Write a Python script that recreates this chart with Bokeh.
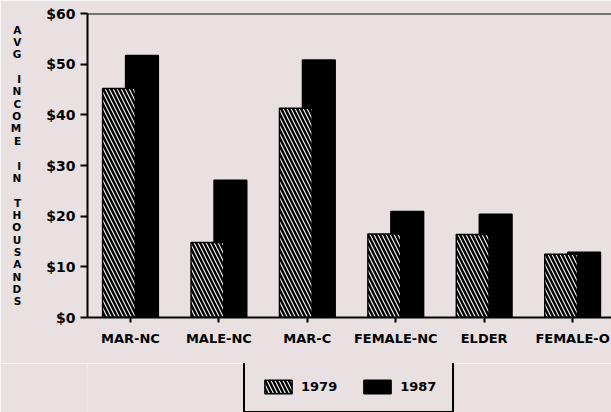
import numpy as np
from bokeh.plotting import figure
from bokeh.layouts import column
from bokeh.models import ColumnDataSource, Legend, LegendItem, Span, FixedTicker
from bokeh.embed import file_html
from bokeh.resources import INLINE

categories = ["MAR-NC", "MALE-NC", "MAR-C", "FEMALE-NC", "ELDER", "FEMALE-O"]
income_1979 = [45.2, 14.8, 41.3, 16.5, 16.4, 12.5]
income_1987 = [51.7, 27.1, 50.8, 20.9, 20.4, 12.9]
y_ticks = [0, 10, 20, 30, 40, 50, 60]
y_tick_labels = ["$0", "$10", "$20", "$30", "$40", "$50", "$60"]
series_labels = ["1979", "1987"]
y_title = "AVG INCOME IN THOUSANDS"

BG = "#e9e1e1"
FONT = "DejaVu Sans"

HATCHED = dict(fill_color="white", line_color="black", line_width=1.5,
               hatch_pattern="\\", hatch_color="black", hatch_scale=8, hatch_weight=2.5)
SOLID = dict(fill_color="black", line_color="black", line_width=1.5)

idx = np.arange(len(categories))
src = ColumnDataSource(dict(
    x79=idx - 0.13, x87=idx + 0.13,
    v79=income_1979, v87=income_1987,
))

p = figure(width=611, height=363, output_backend="svg", toolbar_location=None,
           x_range=(-0.486, 5.44), y_range=(0, 60),
           min_border_left=87, min_border_top=13, min_border_right=0,
           min_border_bottom=46,
           background_fill_color=BG, border_fill_color=BG)
p.outline_line_color = None
p.grid.visible = False

p.vbar(x="x87", top="v87", width=0.37, source=src, **SOLID)
p.vbar(x="x79", top="v79", width=0.37, source=src, **HATCHED)

p.add_layout(Span(location=60, dimension="width", line_color="black", line_width=2))

# y axis
p.yaxis.ticker = FixedTicker(ticks=y_ticks)
p.yaxis.major_label_overrides = {t: l for t, l in zip(y_ticks, y_tick_labels)}
p.yaxis.minor_tick_line_color = None
p.yaxis.major_tick_in = 0
p.yaxis.major_tick_out = 7
p.yaxis.major_tick_line_width = 2
p.yaxis.axis_line_width = 2
p.yaxis.major_label_standoff = 5
p.yaxis.major_label_text_font = FONT
p.yaxis.major_label_text_font_style = "bold"
p.yaxis.major_label_text_font_size = "14px"
p.yaxis.major_label_text_color = "black"
p.yaxis.axis_label = "\n".join(list(y_title))
p.yaxis.axis_label_orientation = "horizontal"
p.yaxis.axis_label_text_font = FONT
p.yaxis.axis_label_text_font_style = "bold"
p.yaxis.axis_label_text_font_size = "10.5px"
p.yaxis.axis_label_text_line_height = 1.03
p.yaxis.axis_label_standoff = 22
p.yaxis.axis_label_text_color = "black"

# x axis
p.xaxis.ticker = FixedTicker(ticks=list(idx))
p.xaxis.major_label_overrides = {int(i): c for i, c in zip(idx, categories)}
p.xaxis.minor_tick_line_color = None
p.xaxis.major_tick_in = 0
p.xaxis.major_tick_out = 5
p.xaxis.major_tick_line_width = 2
p.xaxis.axis_line_width = 2
p.xaxis.major_label_standoff = 8
p.xaxis.major_label_text_font = FONT
p.xaxis.major_label_text_font_style = "bold"
p.xaxis.major_label_text_font_size = "13px"
p.xaxis.major_label_text_color = "black"

# legend strip below the chart (swatch renderers hold no drawable value)
lg = figure(width=611, height=49, output_backend="svg", toolbar_location=None,
            x_range=(0, 1), y_range=(0, 1), x_axis_location=None, y_axis_location=None,
            min_border=0, min_border_left=87, min_border_right=0,
            background_fill_color=BG, border_fill_color=BG)
lg.outline_line_color = None
lg.grid.visible = False
swatch = ColumnDataSource(dict(x=[np.nan], top=[np.nan]))
l79 = lg.vbar(x="x", top="top", width=0.1, source=swatch, **HATCHED)
l87 = lg.vbar(x="x", top="top", width=0.1, source=swatch, **SOLID)

legend = Legend(items=[LegendItem(label=series_labels[0], renderers=[l79]),
                       LegendItem(label=series_labels[1], renderers=[l87])],
                orientation="horizontal", location=(156, -1),
                glyph_width=34, glyph_height=17, label_standoff=6, spacing=23,
                padding=16, margin=0,
                border_line_color="black", border_line_width=2, border_line_alpha=1,
                background_fill_color=BG, background_fill_alpha=1,
                label_text_font=FONT, label_text_font_style="bold",
                label_text_font_size="13px", label_text_color="black")
lg.add_layout(legend, "center")

layout = column(p, lg, spacing=0)
open("out.html", "w").write(file_html(layout, INLINE))
